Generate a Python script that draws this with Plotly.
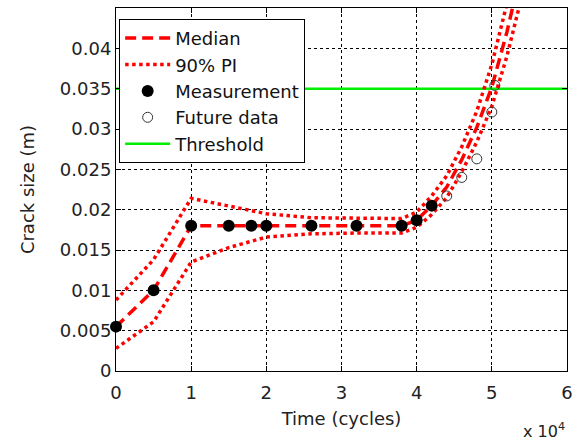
import plotly.graph_objects as go

# ---- data (cycles, crack size in m) ----
curve_x = [0, 5000, 10000, 15000, 20000, 26000, 32000, 38000, 40000, 42000,
           44000, 46000, 48000, 50000, 52000, 54000]
median = [0.0055, 0.0100, 0.0180, 0.0180, 0.0180, 0.0180, 0.0180, 0.0180, 0.0187, 0.0205,
          0.0228, 0.0262, 0.0302, 0.0352, 0.0420, 0.0500]
pi_upper = [0.0088, 0.0138, 0.0214, 0.0205, 0.0195, 0.0190, 0.0189, 0.0189, 0.0197, 0.0217,
            0.0242, 0.0278, 0.0322, 0.0380, 0.0455, 0.0550]
pi_lower = [0.0028, 0.0061, 0.0135, 0.0153, 0.0166, 0.0170, 0.0171, 0.0171, 0.0178, 0.0194,
            0.0215, 0.0247, 0.0284, 0.0328, 0.0390, 0.0465]

meas_x = [0, 5000, 10000, 15000, 18000, 20000, 26000, 32000, 38000, 40000, 42000]
meas_y = [0.0055, 0.0100, 0.0180, 0.0180, 0.0180, 0.0180, 0.0180, 0.0180, 0.0180, 0.0187, 0.0205]

future_x = [44000, 46000, 48000, 50000, 50400]
future_y = [0.0217, 0.0240, 0.0263, 0.0321, 0.0354]

threshold_x = [0, 60000]
threshold_y = [0.035, 0.035]

x_tickvals = [0, 10000, 20000, 30000, 40000, 50000, 60000]
x_ticktext = ["0", "1", "2", "3", "4", "5", "6"]
y_tickvals = [0, 0.005, 0.01, 0.015, 0.02, 0.025, 0.03, 0.035, 0.04]
y_ticktext = ["0", "0.005", "0.01", "0.015", "0.02", "0.025", "0.03", "0.035", "0.04"]

FONT = "DejaVu Sans, Arial, sans-serif"
TXT = "#222222"

fig = go.Figure()
fig.add_trace(go.Scatter(x=threshold_x, y=threshold_y, mode="lines", name="Threshold",
                         line=dict(color="#00ee00", width=2.5), legendrank=5))
fig.add_trace(go.Scatter(x=curve_x, y=median, mode="lines", name="Median",
                         line=dict(color="#ff0000", width=3.5, dash="11px,6px"), legendrank=1))
fig.add_trace(go.Scatter(x=curve_x, y=pi_upper, mode="lines", name="90% PI", legendgroup="pi",
                         line=dict(color="#ff0000", width=3.5, dash="dot"), legendrank=2))
fig.add_trace(go.Scatter(x=curve_x, y=pi_lower, mode="lines", name="90% PI", legendgroup="pi",
                         showlegend=False,
                         line=dict(color="#ff0000", width=3.5, dash="dot")))
fig.add_trace(go.Scatter(x=meas_x, y=meas_y, mode="markers", name="Measurement",
                         marker=dict(color="black", size=12, line=dict(width=0)),
                         legendrank=3, cliponaxis=False))
fig.add_trace(go.Scatter(x=future_x, y=future_y, mode="markers", name="Future data",
                         marker=dict(color="rgba(255,255,255,0)", size=10,
                                     line=dict(color="#333333", width=1)),
                         legendrank=4))

axis_common = dict(
    showline=True, linecolor="black", linewidth=1, mirror="ticks",
    ticks="inside", ticklen=5, tickcolor="black",
    showgrid=True, gridcolor="black", griddash="3px,3px", gridwidth=1,
    zeroline=False,
    tickfont=dict(family=FONT, size=18, color=TXT),
)

fig.update_xaxes(range=[0, 60000], tickvals=x_tickvals, ticktext=x_ticktext,
                 ticklabelstandoff=5,
                 title=dict(text="Time (cycles)", font=dict(family=FONT, size=18, color=TXT),
                            standoff=10),
                 **axis_common)
fig.update_yaxes(range=[0, 0.045], tickvals=y_tickvals, ticktext=y_ticktext,
                 title=dict(text="Crack size (m)", font=dict(family=FONT, size=18, color=TXT),
                            standoff=20),
                 **axis_common)

fig.add_annotation(text="x 10<sup>4</sup>", xref="paper", yref="paper", x=1.0, y=-0.165,
                   xanchor="right", yanchor="middle", showarrow=False,
                   font=dict(family=FONT, size=16, color=TXT))

fig.update_layout(
    width=582, height=442,
    margin=dict(l=116, r=15, t=8, b=71, autoexpand=False),
    paper_bgcolor="white", plot_bgcolor="white",
    font=dict(family=FONT, size=18, color=TXT),
    legend=dict(x=0.007, y=0.97, xanchor="left", yanchor="top",
                bgcolor="white", bordercolor="black", borderwidth=1,
                font=dict(family=FONT, size=18, color="#111111"),
                itemwidth=45, tracegroupgap=0),
    showlegend=True,
)

fig.write_html("out.html", config={"displayModeBar": False},
               post_script="document.body.style.margin='0';")
